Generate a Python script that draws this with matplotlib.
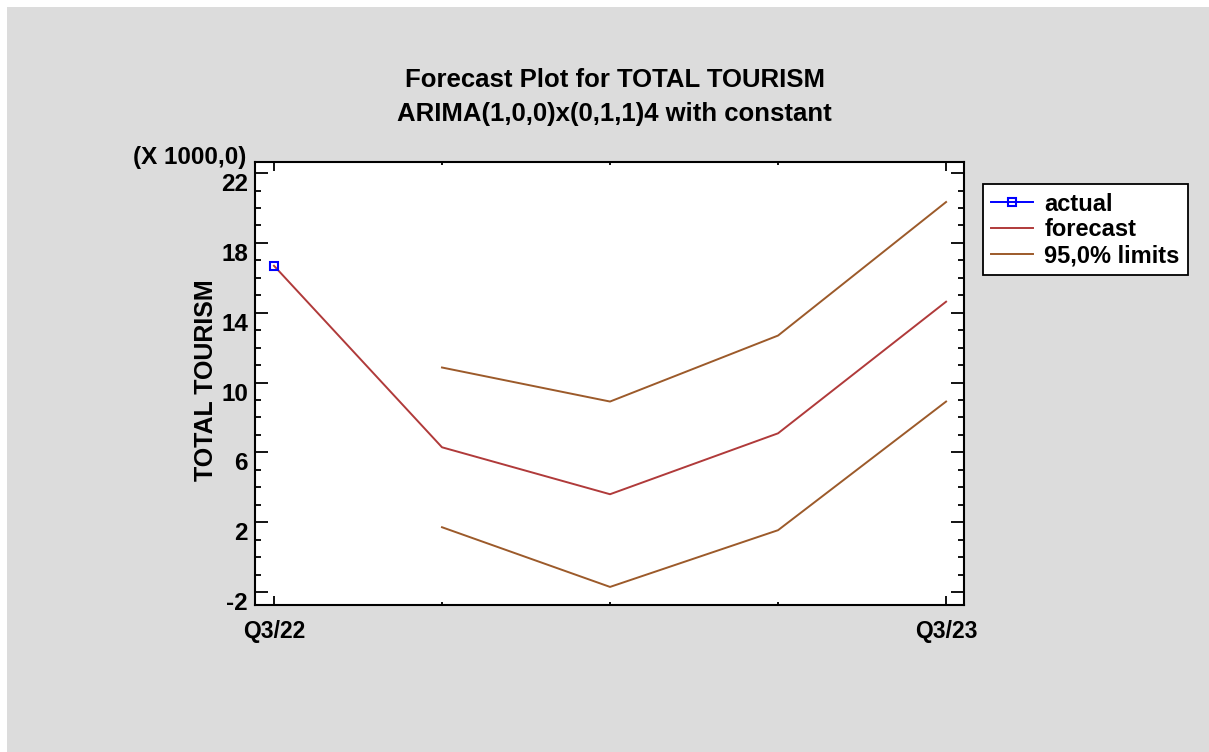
import numpy as np
import matplotlib.pyplot as plt
from matplotlib.patches import Rectangle
from matplotlib.ticker import MultipleLocator, FixedLocator

plt.rcParams['font.family'] = ['Liberation Sans', 'DejaVu Sans']
plt.rcParams['font.weight'] = 'bold'
plt.rcParams['axes.unicode_minus'] = False

# data (thousands)
periods = [0, 1, 2, 3, 4]
tick_labels = ['Q3/22', 'Q3/23']
actual = [16.69]
forecast = [16.69, 6.29, 3.60, 7.09, 14.63]
upper = [10.86, 8.91, 12.69, 20.34]
lower = [1.71, -1.71, 1.54, 8.91]

fig = plt.figure(figsize=(12.09, 7.52), dpi=100)
fig.patch.set_facecolor('white')
fig.patches.append(Rectangle((7 / 1209, 0), 1, 1 - 7 / 752, transform=fig.transFigure,
                             facecolor='#dcdcdc', edgecolor='none', zorder=-10))

ax = fig.add_axes([0.2109, 0.1955, 0.5865, 0.5897])
ax.set_facecolor('white')

ax.plot(periods, forecast, color='#b03a3a', lw=1.4, label='forecast', zorder=3)
ax.plot(periods[1:], upper, color='#9c5a2a', lw=1.4, label='95,0% limits', zorder=2)
ax.plot(periods[1:], lower, color='#9c5a2a', lw=1.4, zorder=2)
ax.plot(periods[:1], actual, color='#0000ff', lw=1.4, marker='s', ms=6,
        mfc='none', mec='#0000ff', mew=1.5, label='actual', zorder=4)

ax.set_xlim(-0.113, 4.107)
ax.set_ylim(-2.745, 22.66)

ax.xaxis.set_major_locator(FixedLocator([0, 4]))
ax.xaxis.set_minor_locator(FixedLocator([1, 2, 3]))
ax.set_xticklabels(tick_labels)
ax.yaxis.set_major_locator(FixedLocator([-2, 2, 6, 10, 14, 18, 22]))
ax.yaxis.set_minor_locator(MultipleLocator(1))

ax.tick_params(which='both', direction='in', top=True, right=True, width=1.3)
ax.tick_params(axis='y', which='major', length=9.5, labelsize=17.5, pad=5)
ax.tick_params(axis='y', which='minor', length=4.5)
ax.tick_params(axis='x', which='major', length=6.5, labelsize=16.5, pad=11)
ax.tick_params(axis='x', which='minor', length=2.5)
for lab in ax.get_yticklabels():
    lab.set_verticalalignment('top')
for s in ax.spines.values():
    s.set_linewidth(1.5)

ax.set_ylabel('TOTAL TOURISM', fontsize=18, fontweight='bold')
ax.yaxis.set_label_coords(-0.052, 0.507)
fig.text(0.110, 0.790, '(X 1000,0)', fontsize=17.5, fontweight='bold', ha='left', va='center')

fig.text(0.509, 0.893, 'Forecast Plot for TOTAL TOURISM', fontsize=18.5, fontweight='bold',
         ha='center', va='center')
fig.text(0.508, 0.849, 'ARIMA(1,0,0)x(0,1,1)4 with constant', fontsize=18.5, fontweight='bold',
         ha='center', va='center')

h, l = ax.get_legend_handles_labels()
order = [2, 0, 1]
leg = ax.legend([h[i] for i in order], [l[i] for i in order], loc='upper left',
                bbox_to_anchor=(0.813, 0.755), bbox_transform=fig.transFigure,
                fontsize=17, frameon=True, fancybox=False, edgecolor='black',
                borderpad=0.35, labelspacing=0.12, handlelength=1.75, handletextpad=0.5,
                borderaxespad=0)
leg.get_frame().set_linewidth(1.3)
leg.get_frame().set_alpha(1)
for t in leg.get_texts():
    t.set_fontweight('bold')

fig.savefig('out.png', dpi=100)
